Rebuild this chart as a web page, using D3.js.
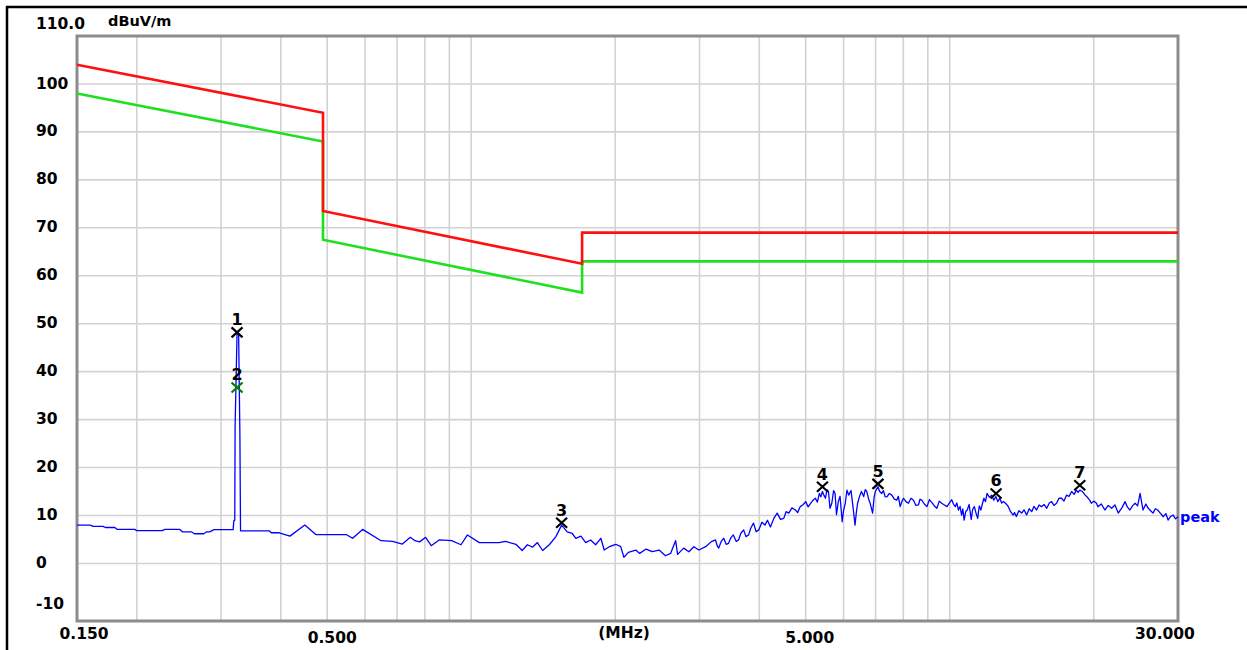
<!DOCTYPE html>
<html>
<head>
<meta charset="utf-8">
<script src="https://cdn.jsdelivr.net/npm/d3@7"></script>
<style>
  html, body { margin: 0; padding: 0; background: #fff; }
  svg { display: block; }
  text { font-family: "DejaVu Sans", Arial, sans-serif; font-weight: bold; fill: #000; }
</style>
</head>
<body>
<div id="chart"></div>
<script>
// limit lines (MHz, dBuV/m)
const redLimit = [[0.15, 104], [0.49, 94], [0.49, 73.5], [1.705, 62.5], [1.705, 69], [30, 69]];
const greenLimit = [[0.15, 98], [0.49, 88], [0.49, 67.5], [1.705, 56.5], [1.705, 63], [30, 63]];

// peak trace
const peakTrace = [
  [0.150, 8.0], [0.160, 8.0], [0.162, 7.75], [0.170, 7.75], [0.172, 7.5], [0.180, 7.5], [0.182, 7.1], [0.198, 7.1],
  [0.200, 6.85], [0.226, 6.85], [0.229, 7.1], [0.246, 7.1], [0.249, 6.6], [0.260, 6.6], [0.264, 6.2], [0.276, 6.2],
  [0.280, 6.6], [0.284, 6.6], [0.290, 7.05], [0.318, 7.05], [0.3190, 8.9], [0.3205, 9.0], [0.3210, 28.5],
  [0.3240, 47.8], [0.3265, 47.8], [0.3285, 26.8], [0.3295, 6.8],
  [0.378, 6.8], [0.382, 6.4], [0.397, 6.4], [0.418, 5.7], [0.449, 8.0], [0.474, 6.0], [0.549, 6.0], [0.565, 5.25],
  [0.593, 7.1], [0.648, 4.75], [0.685, 4.6], [0.718, 4.05], [0.746, 5.45], [0.763, 4.75], [0.780, 4.5], [0.803, 5.45],
  [0.825, 3.7], [0.857, 4.9], [0.910, 4.75], [0.952, 3.9], [0.982, 5.95], [1.04, 4.35], [1.144, 4.35], [1.18, 4.6],
  [1.24, 4.0], [1.278, 2.7], [1.31, 3.9], [1.343, 3.4], [1.375, 4.35], [1.41, 2.7], [1.456, 3.9], [1.503, 5.6],
  [1.545, 8.0], [1.587, 6.6], [1.626, 6.25], [1.654, 5.25], [1.695, 5.7], [1.735, 4.35], [1.776, 4.9], [1.82, 3.9],
  [1.866, 5.25], [1.896, 2.8], [1.944, 3.5], [2.005, 4.0], [2.053, 3.5], [2.085, 1.3], [2.13, 2.3], [2.207, 2.8],
  [2.25, 2.1], [2.32, 3.0], [2.388, 2.45], [2.47, 2.8], [2.547, 1.6], [2.61, 2.1], [2.674, 4.75], [2.70, 1.9],
  [2.78, 3.2], [2.85, 2.45], [2.92, 3.5], [2.99, 2.8], [3.09, 3.5], [3.17, 4.5],
  [3.24, 4.9], [3.27, 3.6], [3.29, 3.2], [3.33, 4.6], [3.37, 5.25], [3.41, 4.0], [3.45, 4.2], [3.49, 5.4],
  [3.53, 5.95], [3.58, 4.6], [3.62, 4.9], [3.66, 6.3], [3.71, 7.0], [3.75, 5.6], [3.80, 5.95], [3.84, 7.4],
  [3.89, 8.4], [3.94, 6.6], [3.99, 7.0], [4.05, 8.6], [4.11, 8.0], [4.16, 9.0], [4.22, 7.6], [4.29, 9.4],
  [4.36, 10.5], [4.43, 9.2], [4.50, 9.4], [4.55, 10.8], [4.61, 10.5], [4.68, 11.6], [4.76, 11.15], [4.81, 10.6],
  [4.87, 11.85], [4.93, 12.2], [5.0, 12.9], [5.06, 11.8], [5.12, 12.55], [5.18, 13.2], [5.24, 13.6], [5.29, 12.8],
  [5.34, 14.6], [5.38, 13.9], [5.42, 15.0], [5.46, 14.2], [5.50, 13.6], [5.54, 15.4], [5.58, 15.0], [5.62, 11.5],
  [5.67, 12.55], [5.72, 15.2], [5.76, 14.6], [5.80, 10.2], [5.85, 12.9], [5.90, 14.0], [5.96, 8.7], [6.00, 11.0],
  [6.05, 12.55], [6.10, 15.3], [6.15, 14.25], [6.22, 15.2], [6.29, 11.15], [6.34, 8.0], [6.38, 10.6], [6.42, 12.55],
  [6.48, 14.0], [6.54, 15.0], [6.61, 13.95], [6.66, 15.4], [6.71, 15.0], [6.77, 13.4], [6.82, 12.55], [6.90, 10.5],
  [6.95, 13.8], [6.99, 15.0], [7.08, 16.0], [7.14, 15.0], [7.21, 14.6], [7.27, 15.2], [7.33, 13.9], [7.40, 13.95],
  [7.48, 14.6], [7.57, 14.25], [7.66, 13.4], [7.75, 13.2], [7.81, 14.0], [7.88, 11.85], [7.95, 13.0], [8.01, 13.6],
  [8.10, 12.9], [8.20, 12.55], [8.30, 13.6], [8.40, 13.2], [8.50, 12.1], [8.60, 12.2], [8.67, 13.4], [8.74, 13.2],
  [8.85, 12.4], [8.96, 11.85], [9.07, 13.3], [9.18, 12.7], [9.29, 12.0], [9.40, 11.5], [9.51, 13.0], [9.62, 12.55],
  [9.75, 12.2], [9.87, 11.85], [9.98, 12.6], [10.1, 13.3], [10.18, 12.4], [10.27, 11.85], [10.35, 12.6], [10.43, 11.15],
  [10.51, 11.9], [10.59, 10.1], [10.65, 11.4], [10.72, 9.05], [10.80, 10.8], [10.88, 11.15], [10.98, 12.3], [11.09, 9.2],
  [11.17, 11.3], [11.26, 11.85], [11.35, 10.5], [11.44, 9.4], [11.53, 12.0], [11.62, 11.15], [11.70, 12.4], [11.79, 13.6],
  [11.88, 12.9], [11.97, 14.6], [12.1, 13.8], [12.24, 14.25], [12.36, 13.2], [12.49, 13.95], [12.6, 12.9], [12.72, 13.6],
  [12.84, 12.6], [12.95, 12.9], [13.1, 12.5], [13.26, 11.85], [13.4, 10.8], [13.57, 10.1], [13.66, 10.6], [13.78, 9.8],
  [13.95, 11.0], [14.14, 10.5], [14.3, 11.2], [14.48, 10.1], [14.66, 11.4], [14.84, 10.8], [15.0, 11.9], [15.19, 11.15],
  [15.37, 12.2], [15.55, 11.85], [15.75, 12.3], [15.95, 11.5], [16.15, 12.6], [16.33, 12.9], [16.52, 12.1], [16.72, 12.55],
  [16.92, 13.6], [17.13, 13.6], [17.33, 13.0], [17.54, 14.25], [17.76, 14.0], [17.98, 15.0], [18.2, 14.4], [18.4, 15.3],
  [18.55, 14.8], [18.7, 15.3], [18.95, 15.0], [19.17, 14.3], [19.4, 13.8], [19.62, 13.2], [19.77, 12.55], [20.0, 13.0],
  [20.27, 12.55], [20.4, 11.85], [20.75, 12.4], [21.1, 11.15], [21.45, 12.1], [21.8, 11.5], [22.15, 12.2], [22.5, 10.5],
  [22.9, 11.6], [23.25, 12.9], [23.5, 11.8], [23.8, 11.15], [24.1, 12.0], [24.4, 12.55], [24.7, 12.0], [25.0, 14.6],
  [25.2, 12.6], [25.35, 11.15], [25.7, 12.4], [26.0, 11.5], [26.3, 11.0], [26.6, 10.5], [26.9, 11.4], [27.2, 11.15],
  [27.6, 10.4], [27.95, 9.75], [28.3, 10.4], [28.6, 9.05], [28.95, 9.8], [29.3, 10.1], [29.65, 9.3], [30.0, 9.75]
];

// markers: number, MHz, dBuV/m, colour
const markerIds = [1, 2, 3, 4, 5, 6, 7];
const markerFreqs = [0.324, 0.324, 1.545, 5.42, 7.08, 12.5, 18.7];
const markerLevels = [48.2, 36.7, 8.5, 16.0, 16.6, 14.6, 16.3];
const markerColors = ["#000", "#008000", "#000", "#000", "#000", "#000", "#000"];

// axes
const yTicks = [100, 90, 80, 70, 60, 50, 40, 30, 20, 10, 0, -10];
const yGrid = [100, 90, 80, 70, 60, 50, 40, 30, 20, 10, 0];
const xGrid = [0.2, 0.3, 0.4, 0.5, 0.6, 0.7, 0.8, 0.9, 1, 2, 3, 4, 5, 6, 7, 8, 9, 10, 20];
const xTicks = [0.15, 0.5, 5, 30];
const xTickLabels = ["0.150", "0.500", "5.000", "30.000"];

const width = 1247;
const height = 650;

const svg = d3.select("#chart").append("svg").attr("width", width).attr("height", height);

// outer frame
svg.append("rect").attr("width", width).attr("height", height).attr("fill", "#fff");
svg.append("line").attr("x1", 7).attr("x2", 7).attr("y1", 6).attr("y2", height).attr("stroke", "#000").attr("stroke-width", 2.5);
svg.append("line").attr("x1", 6).attr("x2", width).attr("y1", 7).attr("y2", 7).attr("stroke", "#000").attr("stroke-width", 2.5);

const x = d3.scaleLog().domain([0.15, 30]).range([77, 1178]);
const y = d3.scaleLinear().domain([-12, 110]).range([621, 36]);

////////////////////////////////////////////////////////////////////////////////////
// grid

const grid = svg.append("g").attr("stroke", "#d2d2d2").attr("stroke-width", 1.6);
grid.selectAll(".vg").data(xGrid).enter().append("line")
  .attr("x1", (d) => x(d)).attr("x2", (d) => x(d))
  .attr("y1", y(110)).attr("y2", y(-12));
grid.selectAll(".hg").data(yGrid).enter().append("line")
  .attr("x1", x(0.15)).attr("x2", x(30))
  .attr("y1", (d) => y(d)).attr("y2", (d) => y(d));

svg.append("rect")
  .attr("x", x(0.15)).attr("y", y(110))
  .attr("width", x(30) - x(0.15)).attr("height", y(-12) - y(110))
  .attr("fill", "none").attr("stroke", "#8c8c8c").attr("stroke-width", 3);

// y labels
svg.append("g").selectAll("text").data(yTicks).enter().append("text")
  .attr("x", 36)
  .attr("y", (d) => (d === -10 ? y(d) - 8 : y(d) - 1))
  .attr("dy", "0.36em")
  .style("font-size", "15.5px")
  .text((d) => d);

svg.append("text").attr("x", 36).attr("y", 29).style("font-size", "15.5px").text("110.0");
svg.append("text").attr("x", 108).attr("y", 26).style("font-size", "14.5px").text("dBuV/m");

// x labels
const xLabelShift = [7, 5, 4, -13];
const xLabelBase = [639, 643, 643, 639];
svg.append("g").selectAll("text").data(xTicks).enter().append("text")
  .attr("x", (d, i) => x(d) + xLabelShift[i])
  .attr("y", (d, i) => xLabelBase[i])
  .attr("text-anchor", "middle")
  .style("font-size", "15.5px")
  .text((d, i) => xTickLabels[i]);
svg.append("text").attr("x", 624).attr("y", 638).attr("text-anchor", "middle").style("font-size", "15.5px").text("(MHz)");

////////////////////////////////////////////////////////////////////////////////////
// limits and trace

const line = d3.line().x((d) => x(d[0])).y((d) => y(d[1]));

svg.append("path").datum(greenLimit).attr("d", line)
  .attr("fill", "none").attr("stroke", "#1fe01f").attr("stroke-width", 2.6);
svg.append("path").datum(redLimit).attr("d", line)
  .attr("fill", "none").attr("stroke", "#ff1010").attr("stroke-width", 2.6);

svg.append("path").datum(peakTrace).attr("d", line)
  .attr("fill", "none").attr("stroke", "#0000ff").attr("stroke-width", 1.3)
  .attr("stroke-linejoin", "round");

svg.append("text")
  .attr("x", x(30) + 2).attr("y", y(peakTrace[peakTrace.length - 1][1]) + 5)
  .style("font-size", "14.5px").style("fill", "#0000ff")
  .text("peak");

// markers
const markers = svg.append("g").selectAll("g").data(markerIds).enter().append("g")
  .attr("transform", (d, i) => `translate(${x(markerFreqs[i])},${y(markerLevels[i])})`);
markers.append("path")
  .attr("d", "M-5.5,-5L5.5,5M-5.5,5L5.5,-5")
  .attr("stroke", (d, i) => markerColors[i])
  .attr("stroke-width", 2.2)
  .attr("fill", "none");
markers.append("text")
  .attr("y", -7)
  .attr("text-anchor", "middle")
  .style("font-size", "16px")
  .text((d) => d);
</script>
</body>
</html>
